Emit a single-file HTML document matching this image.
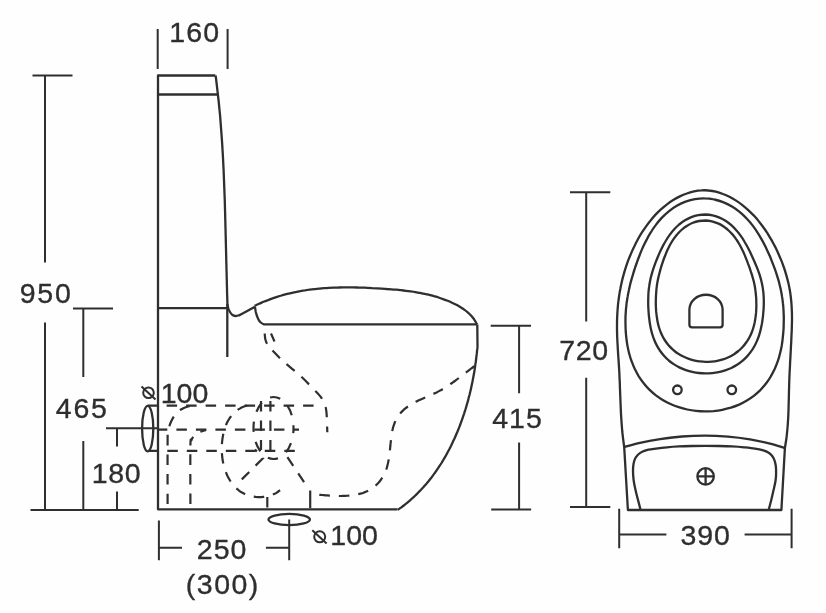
<!DOCTYPE html>
<html>
<head>
<meta charset="utf-8">
<style>
html,body{margin:0;padding:0;background:#fefefe;}
body{width:826px;height:613px;overflow:hidden;}
svg{display:block;filter:blur(0.55px);}
text{font-family:"Liberation Sans",sans-serif;font-size:28.5px;fill:#2e2e2e;stroke:#2e2e2e;stroke-width:0.35px;}
.l{fill:none;stroke:#2f2f2f;stroke-width:2.3;stroke-linecap:butt;stroke-linejoin:round;}
.t{fill:none;stroke:#2f2f2f;stroke-width:2.0;}
.d{fill:none;stroke:#2f2f2f;stroke-width:2.2;stroke-dasharray:10.5 9;}
</style>
</head>
<body>
<svg width="826" height="613" viewBox="0 0 826 613">
<rect width="826" height="613" fill="#fefefe"/>

<!-- SIDE VIEW: solid outlines -->
<g class="l">
  <path d="M215.3 75.5 L158 75.5 L158 509.3 L397.5 509.3"/>
  <path d="M215.6 75.5 C215.8 76.8 216.3 80.7 216.6 83.3 C216.9 85.9 217.2 88.5 217.5 91.1 C217.8 93.7 218.1 96.4 218.4 99.0 C218.7 101.6 219.0 104.2 219.2 106.8 C219.5 109.4 219.7 112.1 220.0 114.7 C220.2 117.3 220.4 119.9 220.6 122.5 C220.8 125.2 221.0 127.8 221.2 130.4 C221.4 133.0 221.6 135.7 221.8 138.3 C222.0 140.9 222.2 143.5 222.3 146.2 C222.5 148.8 222.6 151.4 222.8 154.0 C222.9 156.7 223.1 159.3 223.2 161.9 C223.3 164.5 223.5 167.2 223.6 169.8 C223.7 172.4 223.8 175.1 223.9 177.7 C224.0 180.3 224.1 183.0 224.2 185.6 C224.3 188.2 224.4 190.9 224.5 193.5 C224.6 196.1 224.7 198.7 224.8 201.4 C224.9 204.0 224.9 206.6 225.0 209.3 C225.1 211.9 225.2 214.5 225.2 217.2 C225.3 219.8 225.4 222.4 225.4 225.1 C225.5 227.7 225.6 230.3 225.6 233.0 C225.7 235.6 225.8 238.2 225.8 240.9 C225.9 243.5 225.9 246.1 226.0 248.8 C226.1 251.4 226.1 254.0 226.2 256.7 C226.2 259.3 226.3 261.9 226.4 264.6 C226.4 267.2 226.5 269.8 226.6 272.4 C226.6 275.1 226.7 277.7 226.8 280.3 C226.8 283.0 226.9 285.6 227.0 288.2 C227.0 290.9 227.1 293.5 227.2 296.1 C227.3 298.7 227.4 302.7 227.4 304.0"/>
  <path d="M227.3 304 L227.3 357"/>
  <path d="M158 94.5 L218.5 94.5"/>
  <path d="M158 308.2 L227.3 308.2"/>
  <path d="M227.4 304.0 C227.6 304.8 227.9 307.2 228.3 308.5 C228.7 309.8 229.3 310.9 230.0 312.0 C230.7 313.1 231.6 314.3 232.5 315.0 C233.4 315.7 234.2 315.9 235.3 316.0 C236.4 316.1 237.7 315.8 239.0 315.3 C240.3 314.9 240.4 314.7 243.1 313.3 C245.8 311.9 252.9 307.9 254.9 306.8"/>
  <path d="M254.6 305.9 C255.4 305.5 257.6 304.5 259.1 303.8 C260.5 303.1 262.0 302.5 263.5 301.8 C265.0 301.2 266.5 300.6 268.0 300.1 C269.5 299.5 271.0 298.9 272.5 298.4 C274.0 297.9 275.6 297.4 277.1 296.9 C278.6 296.4 280.1 295.9 281.7 295.5 C283.2 295.1 284.7 294.6 286.3 294.2 C287.8 293.8 289.4 293.5 290.9 293.1 C292.5 292.7 294.0 292.4 295.6 292.1 C297.1 291.8 298.7 291.5 300.3 291.2 C301.8 290.9 303.4 290.6 305.0 290.4 C306.5 290.1 308.1 289.9 309.7 289.7 C311.3 289.5 312.8 289.3 314.4 289.1 C316.0 288.9 317.6 288.8 319.2 288.6 C320.8 288.5 322.4 288.3 324.0 288.2 C325.6 288.1 327.1 288.0 328.7 287.9 C330.3 287.8 331.9 287.7 333.5 287.6 C335.1 287.6 336.7 287.5 338.4 287.5 C340.0 287.4 341.6 287.4 343.2 287.4 C344.8 287.4 346.4 287.4 348.0 287.4 C349.6 287.4 351.2 287.4 352.8 287.4 C354.4 287.4 356.1 287.4 357.7 287.5 C359.3 287.5 360.9 287.6 362.5 287.6 C364.1 287.7 365.7 287.7 367.3 287.8 C369.0 287.9 370.6 288.0 372.2 288.1 C373.8 288.1 375.4 288.2 377.0 288.3 C378.6 288.4 380.2 288.5 381.8 288.6 C383.5 288.7 385.1 288.8 386.7 289.0 C388.3 289.1 389.9 289.2 391.5 289.3 C393.1 289.5 394.7 289.6 396.3 289.7 C397.9 289.9 399.5 290.0 401.1 290.2 C402.7 290.4 404.3 290.6 405.9 290.8 C407.5 291.0 409.1 291.2 410.6 291.4 C412.2 291.6 413.8 291.8 415.4 292.1 C416.9 292.4 418.5 292.6 420.1 292.9 C421.6 293.2 423.2 293.5 424.8 293.9 C426.3 294.2 427.9 294.6 429.4 294.9 C430.9 295.3 432.5 295.7 434.0 296.2 C435.5 296.6 437.1 297.0 438.6 297.5 C440.1 298.0 441.6 298.5 443.1 299.1 C444.6 299.6 446.1 300.2 447.6 300.8 C449.1 301.4 450.6 302.0 452.0 302.7 C453.5 303.4 455.0 304.1 456.4 304.8 C457.8 305.6 459.2 306.3 460.6 307.2 C462.0 308.0 463.3 308.9 464.6 309.9 C465.9 310.8 467.1 311.8 468.3 312.9 C469.5 313.9 470.6 315.1 471.7 316.3 C472.7 317.5 473.7 318.7 474.6 320.1 C475.5 321.4 476.6 323.6 477.0 324.3"/>
  <path d="M254.9 306.8 C255.1 307.7 255.5 310.5 255.8 312.0 C256.2 313.5 256.5 314.7 257.0 316.0 C257.5 317.3 258.0 318.7 258.6 319.8 C259.2 320.9 259.8 321.7 260.7 322.5 C261.6 323.3 263.4 324.1 264.0 324.4 L477.3 324.4"/>
  <path d="M477.3 324.4 C477.3 328.0 477.5 342.0 477.5 346.2 C477.5 350.5 477.3 348.7 477.1 349.9 C477.0 351.2 476.9 352.4 476.8 353.7 C476.6 354.9 476.5 356.1 476.3 357.4 C476.2 358.6 476.0 359.9 475.9 361.1 C475.7 362.4 475.5 363.6 475.3 364.9 C475.2 366.1 475.0 367.4 474.8 368.7 C474.6 369.9 474.4 371.2 474.2 372.4 C474.0 373.7 473.7 374.9 473.5 376.2 C473.3 377.4 473.0 378.7 472.8 379.9 C472.6 381.2 472.3 382.5 472.0 383.7 C471.8 385.0 471.5 386.2 471.2 387.5 C471.0 388.7 470.7 390.0 470.4 391.2 C470.1 392.5 469.8 393.7 469.5 395.0 C469.1 396.2 468.8 397.5 468.5 398.7 C468.2 400.0 467.8 401.2 467.5 402.4 C467.1 403.7 466.8 404.9 466.4 406.2 C466.1 407.4 465.7 408.6 465.3 409.9 C464.9 411.1 464.5 412.3 464.1 413.6 C463.7 414.8 463.3 416.0 462.9 417.2 C462.5 418.4 462.1 419.7 461.6 420.9 C461.2 422.1 460.7 423.3 460.3 424.5 C459.8 425.7 459.4 426.9 458.9 428.1 C458.4 429.3 457.9 430.5 457.4 431.7 C456.9 432.9 456.4 434.1 455.9 435.2 C455.4 436.4 454.9 437.6 454.4 438.8 C453.8 439.9 453.3 441.1 452.7 442.3 C452.2 443.4 451.6 444.6 451.1 445.7 C450.5 446.9 449.9 448.0 449.3 449.2 C448.7 450.3 448.1 451.4 447.5 452.5 C446.9 453.7 446.3 454.8 445.7 455.9 C445.0 457.0 444.4 458.1 443.7 459.2 C443.1 460.3 442.4 461.4 441.8 462.5 C441.1 463.6 440.4 464.7 439.7 465.7 C439.0 466.8 438.3 467.9 437.6 468.9 C436.9 470.0 436.2 471.0 435.4 472.1 C434.7 473.1 433.9 474.1 433.2 475.1 C432.4 476.2 431.7 477.2 430.9 478.2 C430.1 479.2 429.3 480.2 428.5 481.2 C427.7 482.1 426.9 483.1 426.1 484.1 C425.3 485.1 424.4 486.0 423.6 487.0 C422.7 487.9 421.9 488.8 421.0 489.8 C420.1 490.7 419.2 491.6 418.3 492.5 C417.5 493.4 416.5 494.3 415.6 495.2 C414.7 496.1 413.8 496.9 412.8 497.8 C411.9 498.7 411.0 499.5 410.0 500.4 C409.0 501.2 408.0 502.0 407.1 502.8 C406.1 503.6 405.1 504.5 404.1 505.2 C403.0 506.0 402.0 506.8 401.0 507.6 C399.9 508.3 398.3 509.4 397.8 509.8"/>
  <ellipse cx="147.7" cy="428.6" rx="5.6" ry="22.7"/>
  <path d="M147.7 405.6 L158 405.6 M147.7 450.8 L158 450.8"/>
  <ellipse cx="289.2" cy="519.5" rx="20.7" ry="5.6"/>
</g>

<!-- SIDE VIEW: dashed -->
<g class="d">
  <path d="M166.6 405.6 L314 405.6"/>
  <path d="M176.4 429.6 L299 429.6"/>
  <path d="M167.3 450.8 L296 450.8"/>
  <path d="M167.6 504.0 C167.6 493.3 167.5 452.2 167.6 440.0 C167.7 427.8 167.8 433.8 168.3 431.0 C168.8 428.2 169.4 425.7 170.5 423.0 C171.6 420.3 173.2 417.2 175.0 415.0 C176.8 412.8 178.8 410.9 181.0 409.5 C183.2 408.1 185.5 407.1 188.0 406.5 C190.5 405.9 194.7 405.8 196.0 405.6"/>
  <path d="M190.4 504.0 C190.4 494.3 190.2 456.7 190.4 446.0 C190.6 435.3 190.8 441.8 191.5 440.0 C192.2 438.2 193.2 436.8 194.5 435.5 C195.8 434.2 197.1 433.2 199.0 432.3 C200.9 431.4 204.8 430.4 206.0 430.0"/>
  <path d="M247.1 405.4 C246.5 405.7 244.5 406.3 243.3 406.8 C242.0 407.3 240.9 407.9 239.8 408.6 C238.7 409.2 237.7 409.9 236.7 410.6 C235.7 411.4 234.8 412.2 233.9 413.0 C233.1 413.8 232.3 414.7 231.5 415.6 C230.8 416.5 230.1 417.5 229.4 418.5 C228.8 419.5 228.2 420.5 227.6 421.6 C227.1 422.6 226.6 423.7 226.1 424.8 C225.6 425.9 225.2 427.1 224.8 428.2 C224.5 429.4 224.1 430.6 223.8 431.8 C223.5 433.0 223.3 434.2 223.0 435.4 C222.8 436.7 222.6 437.9 222.4 439.2 C222.3 440.4 222.1 441.7 222.0 442.9 C221.9 444.2 221.8 445.5 221.8 446.7 C221.8 448.0 221.8 449.3 221.8 450.5 C221.8 451.8 221.9 453.1 222.0 454.3 C222.1 455.6 222.2 456.9 222.4 458.1 C222.5 459.4 222.7 460.6 223.0 461.9 C223.2 463.1 223.5 464.3 223.8 465.5 C224.1 466.7 224.4 467.9 224.8 469.1 C225.2 470.3 225.6 471.5 226.1 472.6 C226.5 473.8 227.0 474.9 227.5 476.0 C228.1 477.1 228.7 478.2 229.3 479.2 C229.9 480.3 230.5 481.3 231.2 482.3 C231.9 483.3 232.6 484.3 233.4 485.2 C234.2 486.1 235.0 487.0 235.8 487.9 C236.7 488.7 237.6 489.5 238.6 490.2 C239.5 491.0 240.5 491.7 241.5 492.3 C242.6 492.9 243.7 493.5 244.8 494.0 C245.9 494.5 247.1 494.9 248.2 495.3 C249.4 495.7 250.6 496.0 251.8 496.3 C253.1 496.5 254.3 496.7 255.6 496.9 C256.8 497.0 258.1 497.1 259.4 497.1 C260.6 497.1 261.9 497.1 263.2 496.9 C264.4 496.8 265.7 496.6 266.9 496.4 C268.2 496.1 269.4 495.8 270.6 495.4 C271.7 495.1 272.9 494.6 274.0 494.1 C275.1 493.6 276.2 493.0 277.2 492.3 C278.2 491.7 279.6 490.5 280.1 490.2"/>
  <ellipse cx="273.5" cy="428" rx="20" ry="31" style="stroke-dasharray:10.5 10;stroke-dashoffset:5.25"/>
  <path d="M261 401 L261 450 M270.4 401 L270.4 450"/>
  <path d="M241.8 479.4 L263 458.2 L255 449.5"/>
  <path d="M287.4 457.1 L305.4 484"/>
  <path d="M310.2 490.5 L310.2 508.2" style="stroke-dasharray:none"/>
  <path d="M267.3 497 L267.3 508"/>
  <path d="M474.3 366.2 C473.8 366.6 472.2 367.7 471.2 368.5 C470.2 369.3 469.2 370.1 468.2 370.8 C467.1 371.6 466.1 372.4 465.1 373.2 C464.1 374.0 463.1 374.7 462.1 375.5 C461.1 376.3 460.0 377.1 459.0 377.8 C458.0 378.6 457.0 379.4 456.0 380.1 C455.0 380.9 453.9 381.6 452.9 382.4 C451.9 383.1 450.8 383.8 449.8 384.6 C448.7 385.3 447.7 386.0 446.6 386.7 C445.5 387.3 444.5 388.0 443.4 388.7 C442.3 389.3 441.2 390.0 440.0 390.6 C438.9 391.2 437.8 391.8 436.6 392.4 C435.5 392.9 434.3 393.5 433.1 394.0 C432.0 394.6 430.8 395.1 429.6 395.6 C428.4 396.1 427.2 396.6 426.0 397.2 C424.8 397.7 423.6 398.2 422.4 398.7 C421.2 399.2 420.0 399.8 418.9 400.3 C417.7 400.9 416.5 401.4 415.4 402.0 C414.2 402.6 413.1 403.2 412.0 403.9 C410.9 404.5 409.8 405.2 408.8 405.9 C407.7 406.6 406.7 407.4 405.7 408.2 C404.8 408.9 403.8 409.7 402.9 410.6 C402.0 411.4 401.2 412.3 400.4 413.2 C399.6 414.2 398.8 415.1 398.1 416.1 C397.4 417.1 396.8 418.2 396.2 419.3 C395.7 420.3 395.2 421.5 394.7 422.6 C394.3 423.8 393.9 425.0 393.5 426.2 C393.1 427.4 392.8 428.6 392.5 429.9 C392.3 431.2 392.0 432.4 391.8 433.7 C391.6 435.0 391.4 436.3 391.2 437.6 C391.1 439.0 390.9 440.3 390.8 441.6 C390.6 442.9 390.5 444.2 390.4 445.5 C390.2 446.9 390.1 448.2 390.0 449.5 C389.8 450.8 389.7 452.1 389.6 453.4 C389.4 454.7 389.2 456.0 389.0 457.3 C388.9 458.5 388.7 459.8 388.4 461.1 C388.2 462.3 387.9 463.6 387.6 464.8 C387.3 466.1 387.0 467.3 386.6 468.5 C386.2 469.7 385.7 470.9 385.2 472.0 C384.8 473.2 384.2 474.3 383.6 475.4 C383.0 476.5 382.3 477.6 381.6 478.7 C380.9 479.7 380.2 480.8 379.4 481.7 C378.5 482.7 377.7 483.6 376.8 484.5 C375.9 485.4 374.9 486.2 374.0 487.0 C373.0 487.8 371.9 488.5 370.9 489.2 C369.8 489.8 368.7 490.4 367.6 491.0 C366.5 491.5 365.3 492.0 364.2 492.4 C363.0 492.9 361.8 493.3 360.5 493.6 C359.3 494.0 358.1 494.2 356.8 494.5 C355.6 494.8 354.3 495.0 353.0 495.2 C351.7 495.4 350.4 495.5 349.1 495.6 C347.8 495.7 346.4 495.8 345.1 495.9 C343.8 495.9 342.5 496.0 341.2 496.0 C339.8 496.0 338.5 496.0 337.2 495.9 C335.9 495.9 334.6 495.9 333.3 495.8 C332.0 495.7 330.7 495.7 329.4 495.6 C328.1 495.5 326.9 495.4 325.6 495.3 C324.4 495.2 323.2 495.1 322.0 495.0 C320.8 494.9 319.0 494.8 318.4 494.7"/>
  <path d="M264.7 333.5 C264.8 334.4 264.9 337.4 265.3 339.0 C265.7 340.6 265.9 341.6 266.8 343.2 C267.7 344.8 267.6 345.4 270.5 348.5 C273.4 351.6 279.1 357.5 284.0 362.0 C288.9 366.5 294.9 370.8 300.0 375.5 C305.1 380.2 310.8 386.2 314.4 390.0 C318.0 393.8 319.7 395.5 321.5 398.0 C323.3 400.5 324.2 402.6 325.0 405.0 C325.8 407.4 326.1 408.1 326.5 412.6 C326.9 417.1 327.2 428.9 327.3 432.2"/>
  <path d="M271 333.5 L274.5 341.5"/>
</g>
<path class="l" d="M158 429.6 L167.3 429.6"/>

<!-- SIDE VIEW: dimensions -->
<g class="t">
  <path d="M157.7 29 L157.7 69 M227.6 29 L227.6 69"/>
  <path d="M32.5 75.5 L72.5 75.5 M45 75.5 L45 262.5 M45 322.5 L45 509.9"/>
  <path d="M73 308.4 L113 308.4 M83.3 308.4 L83.3 377 M83.3 441 L83.3 509.9"/>
  <path d="M106 428.3 L158 428.3 M117 428.3 L117 446.5 M117 491.5 L117 509.9"/>
  <path d="M30.5 509.9 L138.7 509.9"/>
  <path d="M158.9 520.5 L158.9 560.3 M158.9 547.8 L182 547.8 M265.9 547.8 L289.2 547.8 M289.2 519.5 L289.2 560.3"/>
  <path d="M490.7 325.7 L531 325.7 M519.1 325.7 L519.1 393.2 M519.1 442.4 L519.1 509.5 M491.2 509.5 L531.1 509.5"/>
  <circle cx="148.5" cy="392.8" r="5.3"/>
  <path d="M141.5 386.5 L155.5 399.5"/>
  <circle cx="319.7" cy="536.8" r="5.5"/>
  <path d="M312.3 530.3 L326.6 543.6"/>
</g>

<text x="169.3" y="42.3" style="letter-spacing:1.1px">160</text>
<text x="19.8" y="302.6" style="letter-spacing:1.7px">950</text>
<text x="55.8" y="417.8" style="letter-spacing:1.8px">465</text>
<text x="91.7" y="483" style="letter-spacing:0.7px">180</text>
<text x="160.7" y="402.6">100</text>
<text x="196.8" y="558.5" style="letter-spacing:1px">250</text>
<text x="185.8" y="593.6" style="letter-spacing:1.5px">(300)</text>
<text x="330.2" y="544.7" style="letter-spacing:0.1px">100</text>
<text x="492.2" y="427.9" style="letter-spacing:1px">415</text>

<!-- TOP VIEW -->
<g class="l">
  <path d="M627.9 510 L624.2 447.1 C624.1 445.9 623.5 442.1 623.2 439.6 C622.9 437.0 622.6 434.5 622.3 432.0 C622.1 429.5 621.9 427.0 621.7 424.5 C621.5 422.0 621.3 419.5 621.2 417.0 C621.0 414.5 620.9 412.0 620.8 409.5 C620.7 407.0 620.6 404.5 620.5 402.0 C620.4 399.5 620.3 397.0 620.2 394.5 C620.1 392.0 620.0 389.5 619.9 387.0 C619.9 384.5 619.8 381.9 619.6 379.4 C619.5 376.9 619.4 374.4 619.3 371.9 C619.1 369.3 619.0 366.8 618.8 364.2 C618.7 361.7 618.5 359.2 618.3 356.6 C618.1 354.1 618.0 351.5 617.8 349.0 C617.7 346.4 617.5 343.9 617.4 341.4 C617.3 338.8 617.1 336.3 617.1 333.7 C617.0 331.2 617.0 328.7 617.0 326.2 C617.0 323.6 617.0 321.1 617.1 318.6 C617.2 316.1 617.3 313.6 617.5 311.1 C617.6 308.6 617.9 306.2 618.1 303.7 C618.4 301.2 618.7 298.8 619.1 296.3 C619.4 293.8 619.8 291.4 620.3 289.0 C620.7 286.5 621.3 284.1 621.8 281.7 C622.4 279.3 623.0 276.8 623.7 274.4 C624.3 272.0 625.0 269.7 625.8 267.3 C626.6 264.9 627.4 262.5 628.3 260.2 C629.2 257.8 630.2 255.5 631.2 253.1 C632.2 250.8 633.2 248.5 634.4 246.2 C635.5 243.9 636.7 241.6 637.9 239.3 C639.1 237.1 640.4 234.8 641.8 232.7 C643.2 230.5 644.6 228.4 646.1 226.3 C647.6 224.2 649.1 222.1 650.8 220.2 C652.4 218.2 654.0 216.3 655.8 214.4 C657.5 212.6 659.3 210.8 661.2 209.1 C663.1 207.5 665.0 205.8 667.0 204.3 C669.0 202.8 671.1 201.4 673.2 200.1 C675.4 198.7 677.6 197.5 679.9 196.4 C682.1 195.3 684.4 194.3 686.8 193.5 C689.1 192.6 691.6 191.9 694.0 191.4 C696.4 190.9 698.8 190.5 701.3 190.4 C703.7 190.2 706.2 190.2 708.6 190.5 C711.0 190.7 713.5 191.1 715.9 191.7 C718.3 192.3 720.6 193.1 723.0 194.0 C725.3 194.8 727.6 195.9 729.9 197.1 C732.1 198.2 734.3 199.5 736.5 200.9 C738.6 202.3 740.7 203.8 742.7 205.3 C744.7 206.9 746.6 208.5 748.5 210.3 C750.3 212.0 752.1 213.8 753.9 215.6 C755.6 217.5 757.3 219.4 758.9 221.4 C760.5 223.3 762.0 225.4 763.5 227.5 C765.0 229.5 766.4 231.7 767.8 233.8 C769.1 236.0 770.4 238.2 771.7 240.4 C772.9 242.6 774.1 244.9 775.3 247.1 C776.4 249.4 777.5 251.7 778.5 254.0 C779.5 256.3 780.5 258.6 781.5 260.9 C782.4 263.3 783.2 265.6 784.1 268.0 C784.9 270.3 785.6 272.7 786.3 275.1 C787.0 277.5 787.6 279.9 788.2 282.3 C788.8 284.7 789.3 287.2 789.7 289.6 C790.2 292.1 790.5 294.5 790.8 297.0 C791.1 299.5 791.4 302.0 791.5 304.5 C791.7 307.0 791.8 309.5 791.9 312.0 C792.0 314.6 792.0 317.1 792.0 319.6 C792.0 322.2 791.9 324.7 791.8 327.2 C791.8 329.8 791.7 332.3 791.5 334.9 C791.4 337.4 791.3 339.9 791.2 342.5 C791.0 345.0 790.9 347.5 790.8 350.1 C790.6 352.6 790.5 355.1 790.4 357.6 C790.2 360.1 790.1 362.7 790.0 365.2 C789.9 367.7 789.7 370.2 789.6 372.7 C789.5 375.2 789.4 377.7 789.3 380.2 C789.2 382.8 789.1 385.3 789.1 387.8 C789.0 390.3 788.9 392.8 788.9 395.3 C788.8 397.8 788.8 400.3 788.7 402.9 C788.6 405.4 788.6 407.9 788.5 410.4 C788.4 412.9 788.3 415.4 788.2 417.9 C788.0 420.5 787.9 423.0 787.7 425.5 C787.5 428.0 787.3 430.5 787.0 433.0 C786.8 435.5 786.5 438.0 786.1 440.5 C785.7 443.0 785.1 446.8 784.9 448.0 L781.4 510 Z"/>
  <path d="M704.7 411.4 C701.8 411.4 698.8 411.2 695.9 410.9 C693.0 410.6 690.0 410.1 687.2 409.5 C684.3 408.9 681.4 408.1 678.7 407.2 C675.9 406.3 673.1 405.2 670.5 404.0 C667.8 402.8 665.2 401.5 662.7 400.0 C660.3 398.5 657.9 396.8 655.6 395.1 C653.3 393.3 651.1 391.4 649.1 389.4 C647.1 387.4 645.2 385.2 643.5 383.0 C641.7 380.8 640.1 378.4 638.6 376.1 C637.2 373.7 635.9 371.2 634.7 368.8 C633.5 366.3 632.5 363.7 631.6 361.2 C630.6 358.7 629.9 356.1 629.2 353.6 C628.5 351.1 628.0 348.5 627.5 346.0 C627.0 343.5 626.7 341.0 626.4 338.5 C626.1 336.0 625.9 333.6 625.7 331.2 C625.6 328.7 625.5 326.3 625.5 324.0 C625.4 321.6 625.5 319.3 625.5 316.9 C625.6 314.6 625.8 312.3 625.9 310.0 C626.1 307.7 626.4 305.4 626.6 303.2 C626.9 300.9 627.3 298.7 627.7 296.4 C628.0 294.2 628.5 291.9 629.0 289.7 C629.4 287.5 630.0 285.2 630.5 283.0 C631.1 280.8 631.7 278.5 632.4 276.3 C633.1 274.0 633.7 271.8 634.5 269.5 C635.2 267.2 636.0 264.9 636.9 262.5 C637.7 260.1 638.6 257.8 639.6 255.3 C640.5 252.9 641.5 250.4 642.6 247.9 C643.8 245.4 644.9 242.9 646.3 240.4 C647.6 237.8 649.0 235.2 650.6 232.7 C652.1 230.1 653.8 227.6 655.7 225.1 C657.5 222.6 659.6 220.2 661.7 217.9 C663.9 215.6 666.3 213.3 668.8 211.3 C671.3 209.3 674.0 207.4 676.8 205.8 C679.6 204.2 682.6 202.7 685.6 201.6 C688.6 200.5 691.8 199.6 695.0 199.1 C698.2 198.6 701.5 198.3 704.7 198.4 C707.9 198.4 711.2 198.8 714.4 199.5 C717.5 200.1 720.7 201.1 723.7 202.4 C726.7 203.6 729.6 205.1 732.4 206.8 C735.1 208.4 737.7 210.4 740.2 212.4 C742.7 214.5 745.0 216.7 747.1 219.0 C749.3 221.3 751.3 223.7 753.1 226.2 C754.9 228.6 756.6 231.1 758.2 233.6 C759.8 236.1 761.2 238.6 762.6 241.1 C763.9 243.5 765.1 246.0 766.3 248.4 C767.5 250.8 768.5 253.2 769.6 255.6 C770.6 257.9 771.5 260.3 772.4 262.6 C773.3 264.9 774.2 267.2 775.0 269.4 C775.8 271.7 776.5 273.9 777.2 276.2 C777.9 278.4 778.6 280.7 779.2 282.9 C779.7 285.1 780.3 287.4 780.8 289.6 C781.2 291.9 781.7 294.1 782.0 296.4 C782.4 298.6 782.7 300.9 782.9 303.2 C783.2 305.4 783.4 307.7 783.5 310.0 C783.6 312.3 783.7 314.6 783.8 316.9 C783.8 319.2 783.8 321.6 783.7 323.9 C783.7 326.3 783.6 328.7 783.4 331.1 C783.2 333.5 783.0 335.9 782.7 338.4 C782.5 340.9 782.1 343.4 781.7 345.9 C781.2 348.4 780.7 351.0 780.0 353.5 C779.4 356.1 778.7 358.6 777.8 361.2 C776.9 363.7 775.9 366.3 774.8 368.8 C773.6 371.3 772.4 373.8 770.9 376.2 C769.5 378.7 767.9 381.0 766.2 383.3 C764.5 385.5 762.6 387.7 760.6 389.8 C758.5 391.8 756.4 393.8 754.1 395.6 C751.8 397.4 749.4 399.0 746.9 400.5 C744.4 402.0 741.8 403.4 739.1 404.6 C736.4 405.7 733.7 406.8 730.9 407.7 C728.1 408.5 725.2 409.2 722.3 409.8 C719.4 410.4 716.5 410.8 713.5 411.1 C710.6 411.3 707.6 411.4 704.7 411.4 Z"/>
  <path d="M705.5 373.4 C703.3 373.4 701.1 373.3 698.8 373.0 C696.6 372.8 694.4 372.4 692.3 371.9 C690.1 371.4 688.0 370.8 685.9 370.1 C683.8 369.4 681.8 368.6 679.8 367.6 C677.8 366.6 675.9 365.6 674.1 364.4 C672.3 363.2 670.5 361.9 668.8 360.5 C667.2 359.1 665.6 357.6 664.2 356.0 C662.8 354.4 661.4 352.7 660.2 351.0 C659.0 349.3 657.9 347.4 656.9 345.6 C655.9 343.8 655.0 341.9 654.3 340.0 C653.5 338.1 652.8 336.2 652.3 334.3 C651.7 332.4 651.2 330.5 650.8 328.6 C650.4 326.7 650.1 324.8 649.8 323.0 C649.5 321.1 649.3 319.3 649.1 317.5 C648.9 315.8 648.7 314.0 648.6 312.2 C648.5 310.5 648.4 308.8 648.3 307.1 C648.2 305.4 648.2 303.7 648.2 302.0 C648.2 300.3 648.2 298.7 648.3 297.0 C648.3 295.3 648.4 293.7 648.5 292.0 C648.7 290.4 648.8 288.7 649.1 287.0 C649.3 285.4 649.5 283.7 649.9 282.1 C650.2 280.4 650.5 278.8 650.9 277.1 C651.4 275.5 651.8 273.8 652.3 272.2 C652.8 270.5 653.3 268.9 653.9 267.2 C654.5 265.5 655.1 263.9 655.7 262.2 C656.4 260.4 657.1 258.7 657.8 257.0 C658.5 255.2 659.3 253.4 660.1 251.6 C661.0 249.8 661.8 248.0 662.8 246.1 C663.8 244.3 664.8 242.4 666.0 240.5 C667.1 238.7 668.3 236.8 669.7 234.9 C671.0 233.1 672.4 231.2 674.0 229.5 C675.6 227.8 677.3 226.1 679.1 224.5 C680.9 223.0 682.9 221.6 685.0 220.3 C687.0 219.1 689.2 218.0 691.4 217.1 C693.6 216.2 696.0 215.5 698.3 215.1 C700.7 214.7 703.1 214.5 705.5 214.5 C707.9 214.6 710.3 214.9 712.6 215.4 C715.0 215.9 717.3 216.6 719.5 217.6 C721.7 218.5 723.8 219.7 725.9 221.0 C727.9 222.3 729.8 223.8 731.6 225.4 C733.3 227.0 735.0 228.7 736.5 230.5 C738.1 232.2 739.5 234.1 740.8 235.9 C742.1 237.7 743.3 239.6 744.4 241.5 C745.5 243.3 746.5 245.2 747.5 247.0 C748.5 248.8 749.3 250.6 750.2 252.3 C751.0 254.1 751.8 255.8 752.6 257.5 C753.4 259.2 754.1 260.8 754.8 262.5 C755.5 264.1 756.2 265.7 756.9 267.4 C757.5 269.0 758.1 270.6 758.7 272.2 C759.3 273.8 759.8 275.4 760.3 277.1 C760.8 278.7 761.2 280.3 761.6 282.0 C762.0 283.6 762.3 285.3 762.6 286.9 C762.9 288.6 763.1 290.3 763.3 291.9 C763.5 293.6 763.6 295.3 763.7 297.0 C763.8 298.7 763.8 300.4 763.8 302.1 C763.8 303.8 763.8 305.5 763.7 307.3 C763.6 309.0 763.5 310.7 763.3 312.5 C763.2 314.3 763.0 316.0 762.8 317.8 C762.5 319.6 762.3 321.5 762.0 323.3 C761.6 325.2 761.3 327.1 760.8 328.9 C760.4 330.8 759.9 332.7 759.3 334.6 C758.7 336.6 758.0 338.5 757.2 340.4 C756.4 342.3 755.5 344.2 754.5 346.0 C753.5 347.8 752.4 349.7 751.1 351.4 C749.9 353.1 748.6 354.8 747.1 356.4 C745.6 358.0 744.1 359.5 742.4 360.9 C740.7 362.3 739.0 363.6 737.1 364.8 C735.3 366.0 733.3 367.0 731.3 368.0 C729.3 368.9 727.3 369.7 725.2 370.4 C723.1 371.1 720.9 371.7 718.7 372.1 C716.6 372.6 714.4 372.9 712.2 373.1 C710.0 373.3 707.7 373.4 705.5 373.4 Z"/>
  <path d="M705.5 361.8 C703.5 361.8 701.6 361.6 699.6 361.4 C697.7 361.1 695.7 360.8 693.8 360.3 C691.9 359.9 690.0 359.3 688.2 358.6 C686.3 358.0 684.5 357.2 682.8 356.3 C681.1 355.5 679.4 354.5 677.8 353.4 C676.2 352.4 674.6 351.2 673.2 349.9 C671.8 348.7 670.4 347.3 669.1 345.9 C667.9 344.5 666.7 343.0 665.7 341.5 C664.6 339.9 663.6 338.3 662.8 336.7 C661.9 335.1 661.2 333.4 660.5 331.7 C659.9 330.1 659.3 328.4 658.8 326.7 C658.3 325.0 657.9 323.3 657.6 321.7 C657.2 320.0 657.0 318.4 656.8 316.7 C656.5 315.1 656.4 313.5 656.2 311.9 C656.1 310.4 656.0 308.8 655.9 307.3 C655.9 305.7 655.8 304.2 655.8 302.8 C655.8 301.3 655.8 299.8 655.9 298.3 C655.9 296.9 656.0 295.4 656.1 294.0 C656.2 292.6 656.3 291.1 656.4 289.7 C656.6 288.3 656.7 286.9 656.9 285.4 C657.1 284.0 657.4 282.6 657.6 281.2 C657.9 279.8 658.2 278.3 658.5 276.9 C658.9 275.5 659.2 274.0 659.6 272.6 C660.0 271.1 660.4 269.7 660.8 268.2 C661.3 266.7 661.7 265.2 662.2 263.7 C662.7 262.2 663.2 260.6 663.8 259.0 C664.4 257.4 665.0 255.8 665.7 254.2 C666.3 252.5 667.1 250.8 667.9 249.1 C668.7 247.5 669.5 245.7 670.5 244.0 C671.5 242.3 672.5 240.6 673.7 238.9 C674.9 237.2 676.1 235.5 677.5 234.0 C678.9 232.4 680.4 230.9 682.0 229.5 C683.6 228.1 685.4 226.8 687.2 225.7 C689.0 224.6 691.0 223.6 692.9 222.8 C694.9 222.0 697.0 221.4 699.1 221.0 C701.2 220.7 703.4 220.5 705.5 220.5 C707.6 220.6 709.8 220.9 711.9 221.3 C713.9 221.8 716.0 222.5 718.0 223.4 C719.9 224.2 721.8 225.3 723.6 226.5 C725.4 227.7 727.1 229.0 728.6 230.5 C730.2 231.9 731.6 233.5 733.0 235.0 C734.3 236.6 735.6 238.3 736.7 240.0 C737.8 241.6 738.8 243.4 739.8 245.0 C740.7 246.7 741.6 248.4 742.4 250.1 C743.2 251.7 743.9 253.3 744.6 254.9 C745.3 256.5 745.9 258.1 746.5 259.6 C747.1 261.1 747.7 262.6 748.2 264.1 C748.8 265.6 749.3 267.0 749.8 268.4 C750.3 269.9 750.8 271.3 751.2 272.7 C751.7 274.1 752.1 275.5 752.5 276.9 C752.9 278.3 753.3 279.7 753.7 281.1 C754.0 282.5 754.3 283.9 754.6 285.3 C754.9 286.8 755.1 288.2 755.3 289.6 C755.5 291.1 755.7 292.5 755.8 294.0 C756.0 295.5 756.1 296.9 756.2 298.4 C756.3 299.9 756.3 301.4 756.3 303.0 C756.4 304.5 756.4 306.0 756.3 307.6 C756.3 309.2 756.2 310.8 756.1 312.4 C755.9 314.0 755.8 315.7 755.5 317.3 C755.3 319.0 755.0 320.7 754.7 322.4 C754.3 324.1 753.9 325.8 753.4 327.5 C752.9 329.3 752.3 331.0 751.6 332.7 C750.9 334.4 750.1 336.1 749.2 337.7 C748.3 339.4 747.3 341.0 746.2 342.5 C745.1 344.1 743.9 345.6 742.6 347.0 C741.3 348.4 739.9 349.7 738.4 351.0 C736.9 352.2 735.3 353.4 733.7 354.4 C732.0 355.4 730.3 356.4 728.5 357.2 C726.7 358.0 724.9 358.7 723.0 359.3 C721.1 359.9 719.2 360.4 717.3 360.8 C715.3 361.2 713.4 361.4 711.4 361.6 C709.5 361.8 707.5 361.8 705.5 361.8 Z"/>
  <path d="M689.4 324.8 L689.4 309.6 A16.6 14.9 0 0 1 722.6 309.6 L722.6 324.8 Q722.6 327.3 720 327.3 L692 327.3 Q689.4 327.3 689.4 324.8 Z"/>
  <circle cx="677.4" cy="389.8" r="4.3"/>
  <circle cx="731.8" cy="389.8" r="4.3"/>
  <path d="M624.3 447.1 C626.9 446.4 634.0 444.1 640.0 442.8 C646.0 441.5 653.0 440.2 660.0 439.1 C667.0 438.1 674.5 437.1 682.0 436.5 C689.5 435.9 697.3 435.6 705.0 435.6 C712.7 435.6 720.5 436.0 728.0 436.6 C735.5 437.2 743.0 438.2 750.0 439.4 C757.0 440.6 764.2 442.2 770.0 443.6 C775.8 445.0 782.3 447.3 784.8 448.0"/>
  <path d="M640.6 510.0 C640.1 508.0 638.4 501.5 637.5 498.0 C636.6 494.5 635.9 492.0 635.3 489.0 C634.6 486.0 634.0 483.1 633.6 480.0 C633.2 476.9 633.0 473.4 633.0 470.6 C633.0 467.9 633.2 465.6 633.6 463.5 C634.0 461.4 634.5 459.8 635.3 458.3 C636.1 456.8 637.1 455.6 638.2 454.5 C639.4 453.4 640.5 452.5 642.2 451.7 C643.9 450.9 646.2 450.2 648.5 449.7 C650.8 449.2 652.9 449.0 656.0 448.6 C659.1 448.2 663.2 447.7 667.0 447.3 C670.8 446.9 674.8 446.6 679.0 446.4 C683.2 446.2 687.6 446.1 692.0 446.0 C696.4 445.9 701.0 445.8 705.5 445.8 C710.0 445.8 714.6 445.9 719.0 446.0 C723.4 446.1 727.8 446.2 732.0 446.4 C736.2 446.6 740.2 446.9 744.0 447.3 C747.8 447.7 751.8 448.1 754.9 448.6 C758.0 449.1 760.2 449.5 762.5 450.2 C764.8 450.9 767.1 451.7 768.7 452.7 C770.3 453.7 771.2 454.7 772.2 456.0 C773.2 457.3 773.9 458.6 774.5 460.3 C775.1 462.0 775.5 463.9 775.8 466.0 C776.1 468.1 776.1 470.4 776.1 472.9 C776.1 475.4 775.9 478.3 775.5 481.0 C775.1 483.7 774.5 486.0 773.8 489.0 C773.1 492.0 772.4 495.5 771.5 499.0 C770.6 502.5 769.2 508.2 768.7 510.0"/>
  <circle cx="705.6" cy="476.4" r="8.2"/>
  <path d="M697.4 476.4 L713.8 476.4 M705.6 468.2 L705.6 484.6"/>
</g>
<g class="t">
  <path d="M570 192.3 L610.3 192.3 M586.2 192.3 L586.2 321.5 M586.2 377.7 L586.2 507 M570 507 L610.3 507"/>
  <path d="M619.2 508.8 L619.2 548.3 M619.2 534.4 L666.4 534.4 M744.6 534.4 L791.6 534.4 M791.6 508.8 L791.6 548.3"/>
</g>
<text x="559.3" y="360.2" style="letter-spacing:0.6px">720</text>
<text x="680.6" y="545.1" style="letter-spacing:0.9px">390</text>
</svg>
</body>
</html>
